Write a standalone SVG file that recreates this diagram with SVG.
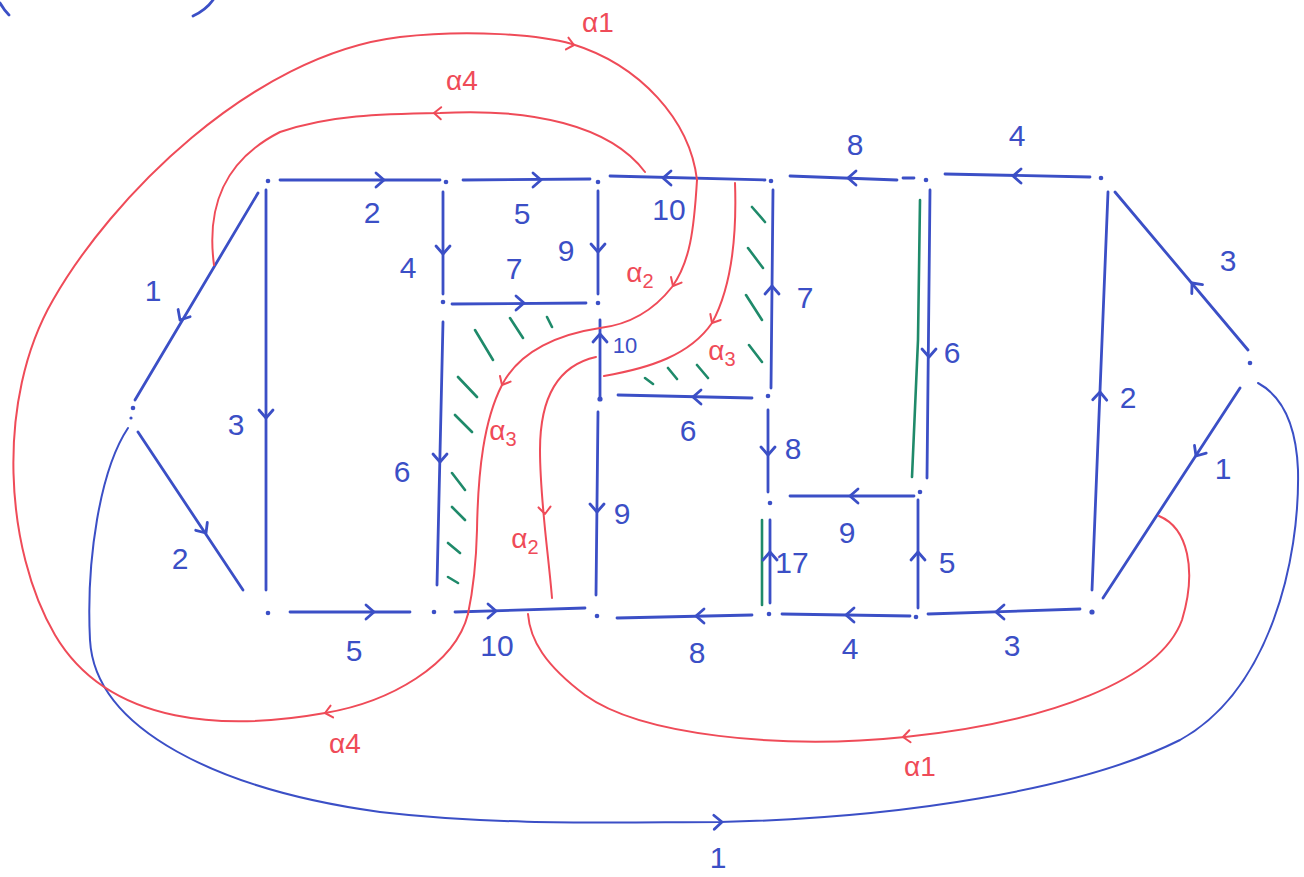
<svg xmlns="http://www.w3.org/2000/svg" xmlns:xlink="http://www.w3.org/1999/xlink" width="1304" height="877" viewBox="0 0 1304 877">
<style>
.b{stroke:#3b4fc6;stroke-width:2.8;fill:none;stroke-linecap:round;stroke-linejoin:round}
.bt{stroke:#3b4fc6;stroke-width:2;fill:none;stroke-linecap:round}
.r{stroke:#ef4b58;stroke-width:2;fill:none;stroke-linecap:round;stroke-linejoin:round}
.g{stroke:#1f8a6a;stroke-width:2.6;fill:none;stroke-linecap:round}
.v{fill:#3b4fc6}
.lb{fill:#3b4fc6;font-family:"Liberation Sans","DejaVu Sans",sans-serif;font-size:30px;text-anchor:middle}
.ls{font-size:22px}
.lr{fill:#ef4b58;font-family:"Liberation Sans","DejaVu Sans",sans-serif;font-size:28px;text-anchor:middle}
.sub{font-size:20px}
</style>
<defs>
<path id="chev" d="M-8,-7 L0,0 L-8,7"/>
<path id="chevr" d="M-7,-6 L0,0 L-7,6"/>
</defs>
<rect width="1304" height="877" fill="#ffffff"/>

<!-- partial strokes at top-left edge -->
<g id="fragments">
<path class="b" d="M0,3 Q4,10 9,15"/>
<path class="b" d="M213,0 Q206,10 193,16"/>
</g>

<g id="hatching">
<path class="g" d="M458,377 L477,397 M455,415 L472,432 M452,473 L465,490 M452,507 L465,520 M448,543 L460,553 M448,577 L458,583"/>
<path class="g" d="M475,330 L493,360 M510,318 L523,338 M547,317 L552,327"/>
<path class="g" d="M752,207 L765,222 M748,248 L763,268 M746,295 L762,320 M749,345 L762,362 M697,365 L708,378 M668,368 L677,379 M645,378 L653,384"/>
<path class="g" d="M920,200 L918,340 L912,477"/>
<path class="g" d="M762,520 L762,605"/>
</g>

<g id="connectors">
<!-- top row -->
<path class="b" d="M280,180 L440,180"/>
<path class="b" d="M463,180 L590,179"/>
<path class="b" d="M610,176 L765,180"/>
<path class="b" d="M790,176 L897,180 M903,178 L914,178"/>
<path class="b" d="M945,174 L1090,177"/>
<!-- left part -->
<path class="b" d="M266,190 L266,590"/>
<path class="b" d="M258,193 L135,400"/>
<path class="b" d="M138,432 L243,590"/>
<path class="b" d="M443,192 L443,294"/>
<path class="b" d="M452,304 L586,303"/>
<path class="b" d="M598,191 L598,294"/>
<path class="b" d="M443,322 L437,585"/>
<!-- middle -->
<path class="b" d="M600,320 L600,397"/>
<path class="b" d="M618,395 L752,398"/>
<path class="b" d="M773,190 L771,388"/>
<path class="b" d="M768,410 L768,492"/>
<path class="b" d="M770,520 L770,603"/>
<path class="b" d="M790,496 L914,496"/>
<path class="b" d="M918,500 L918,608"/>
<path class="b" d="M930,190 L927,478"/>
<path class="b" d="M598,412 L596,595"/>
<!-- right part -->
<path class="b" d="M1108,192 L1092,590"/>
<path class="b" d="M1115,192 L1248,350"/>
<path class="b" d="M1240,388 L1103,598"/>
<!-- bottom row -->
<path class="b" d="M290,612 L410,612"/>
<path class="b" d="M455,612 L585,608"/>
<path class="b" d="M617,618 L752,615"/>
<path class="b" d="M782,614 L910,616"/>
<path class="b" d="M928,614 L1080,609"/>
<!-- big loop -->
<path class="bt" d="M128,428 C100,470 86,560 90,640 C95,730 220,790 380,812 C500,826 620,822 720,822 C900,818 1080,790 1180,740 C1270,690 1300,560 1298,470 C1296,420 1280,395 1258,383"/>

<!-- blue arrowheads -->
<g class="b">
<use href="#chev" transform="translate(384,180)"/>
<use href="#chev" transform="translate(541,180)"/>
<use href="#chev" transform="translate(663,178) rotate(180)"/>
<use href="#chev" transform="translate(848,178) rotate(180)"/>
<use href="#chev" transform="translate(1013,176) rotate(180)"/>
<use href="#chev" transform="translate(1192,283) rotate(230)"/>
<use href="#chev" transform="translate(1196,456) rotate(123)"/>
<use href="#chev" transform="translate(1100,392) rotate(-88)"/>
<use href="#chev" transform="translate(929,357) rotate(90)"/>
<use href="#chev" transform="translate(772,286) rotate(-90)"/>
<use href="#chev" transform="translate(598,252) rotate(90)"/>
<use href="#chev" transform="translate(443,254) rotate(90)"/>
<use href="#chev" transform="translate(524,303)"/>
<use href="#chev" transform="translate(600,334) rotate(-90)"/>
<use href="#chev" transform="translate(693,397) rotate(180)"/>
<use href="#chev" transform="translate(768,455) rotate(90)"/>
<use href="#chev" transform="translate(850,496) rotate(180)"/>
<use href="#chev" transform="translate(770,552) rotate(-90)"/>
<use href="#chev" transform="translate(918,552) rotate(-90)"/>
<use href="#chev" transform="translate(597,512) rotate(90)"/>
<use href="#chev" transform="translate(440,462) rotate(90)"/>
<use href="#chev" transform="translate(266,418) rotate(90)"/>
<use href="#chev" transform="translate(180,320) rotate(121)"/>
<use href="#chev" transform="translate(206,533) rotate(56)"/>
<use href="#chev" transform="translate(374,612)"/>
<use href="#chev" transform="translate(496,611)"/>
<use href="#chev" transform="translate(696,616) rotate(180)"/>
<use href="#chev" transform="translate(846,615) rotate(180)"/>
<use href="#chev" transform="translate(996,612) rotate(180)"/>
<use href="#chev" transform="translate(722,822) rotate(-2)"/>
</g>

<!-- red curves -->
<path class="r" d="M468,614 C455,665 390,702 325,713 C230,730 110,728 55,635 C5,550 -5,400 53,300 C110,200 250,55 400,37 C470,29 540,35 572,44 C640,65 690,120 697,180"/>
<path class="r" d="M697,180 C694,230 690,262 672,287 C650,315 625,325 600,328 C560,334 520,350 502,385 C484,420 478,470 477,530 C476,570 472,595 468,614"/>
<path class="r" d="M214,265 C206,205 225,160 280,132 C330,115 380,114 440,113 C530,108 610,125 645,172"/>
<path class="r" d="M735,183 C737,240 730,290 712,323 C690,355 650,368 604,376"/>
<path class="r" d="M596,357 C560,365 540,395 540,450 C540,500 548,550 552,598"/>
<path class="r" d="M1159,516 C1188,528 1197,570 1182,620 C1160,680 1050,722 905,737 C780,750 640,735 585,695 C545,665 530,640 528,614"/>
<g class="r">
<use href="#chevr" transform="translate(574,45) rotate(12)"/>
<use href="#chevr" transform="translate(434,113) rotate(182)"/>
<use href="#chevr" transform="translate(673,286) rotate(118)"/>
<use href="#chevr" transform="translate(712,323) rotate(120)"/>
<use href="#chevr" transform="translate(502,385) rotate(118)"/>
<use href="#chevr" transform="translate(545,514) rotate(86)"/>
<use href="#chevr" transform="translate(325,713) rotate(168)"/>
<use href="#chevr" transform="translate(903,737) rotate(174)"/>
</g>
</g>

<g id="nodes">
<g id="n1"><circle class="v" cx="268" cy="181" r="2.3"/></g>
<g id="n2"><circle class="v" cx="446" cy="182" r="2.3"/></g>
<g id="n3"><circle class="v" cx="598" cy="182" r="2.3"/></g>
<g id="n4"><circle class="v" cx="771" cy="181" r="2.3"/></g>
<g id="n5"><circle class="v" cx="926" cy="180" r="2.3"/></g>
<g id="n6"><circle class="v" cx="1101" cy="178" r="2.3"/></g>
<g id="n7"><circle class="v" cx="133" cy="408" r="2.3"/><circle class="v" cx="131" cy="418" r="1.6"/></g>
<g id="n8"><circle class="v" cx="443" cy="302" r="2.3"/></g>
<g id="n9"><circle class="v" cx="598" cy="303" r="2.3"/></g>
<g id="n10"><circle class="v" cx="600" cy="399" r="2.6"/></g>
<g id="n11"><circle class="v" cx="768" cy="396" r="2.3"/></g>
<g id="n12"><circle class="v" cx="770" cy="503" r="2.3"/></g>
<g id="n13"><circle class="v" cx="920" cy="492" r="2.3"/></g>
<g id="n14"><circle class="v" cx="268" cy="613" r="2.3"/></g>
<g id="n15"><circle class="v" cx="434" cy="612" r="2.3"/></g>
<g id="n16"><circle class="v" cx="597" cy="616" r="2.3"/></g>
<g id="n17"><circle class="v" cx="769" cy="614" r="2.3"/></g>
<g id="n18"><circle class="v" cx="916" cy="617" r="2.3"/></g>
<g id="n19"><circle class="v" cx="1092" cy="612" r="2.6"/></g>
<g id="n20"><circle class="v" cx="1250" cy="363" r="2.3"/></g>
</g>

<g id="labels">
<text class="lb" x="372" y="223">2</text>
<text class="lb" x="522" y="224">5</text>
<text class="lb" x="669" y="220">10</text>
<text class="lb" x="855" y="155">8</text>
<text class="lb" x="1017" y="146">4</text>
<text class="lb" x="1228" y="271">3</text>
<text class="lb" x="153" y="301">1</text>
<text class="lb" x="236" y="435">3</text>
<text class="lb" x="408" y="278">4</text>
<text class="lb" x="514" y="279">7</text>
<text class="lb" x="566" y="261">9</text>
<text class="lb" x="805" y="308">7</text>
<text class="lb ls" x="625" y="353">10</text>
<text class="lb" x="952" y="363">6</text>
<text class="lb" x="1128" y="408">2</text>
<text class="lb" x="1223" y="479">1</text>
<text class="lb" x="402" y="482">6</text>
<text class="lb" x="688" y="441">6</text>
<text class="lb" x="793" y="459">8</text>
<text class="lb" x="622" y="524">9</text>
<text class="lb" x="847" y="543">9</text>
<text class="lb" x="792" y="573">17</text>
<text class="lb" x="947" y="573">5</text>
<text class="lb" x="180" y="569">2</text>
<text class="lb" x="354" y="661">5</text>
<text class="lb" x="497" y="656">10</text>
<text class="lb" x="697" y="663">8</text>
<text class="lb" x="850" y="659">4</text>
<text class="lb" x="1012" y="656">3</text>
<text class="lb" x="718" y="868">1</text>
<text class="lr" x="598" y="32">α1</text>
<text class="lr" x="462" y="90">α4</text>
<text class="lr" x="640" y="282">α<tspan class="sub" dy="6">2</tspan></text>
<text class="lr" x="722" y="360">α<tspan class="sub" dy="6">3</tspan></text>
<text class="lr" x="503" y="440">α<tspan class="sub" dy="6">3</tspan></text>
<text class="lr" x="525" y="548">α<tspan class="sub" dy="6">2</tspan></text>
<text class="lr" x="345" y="753">α4</text>
<text class="lr" x="920" y="776">α1</text>
</g>
</svg>
